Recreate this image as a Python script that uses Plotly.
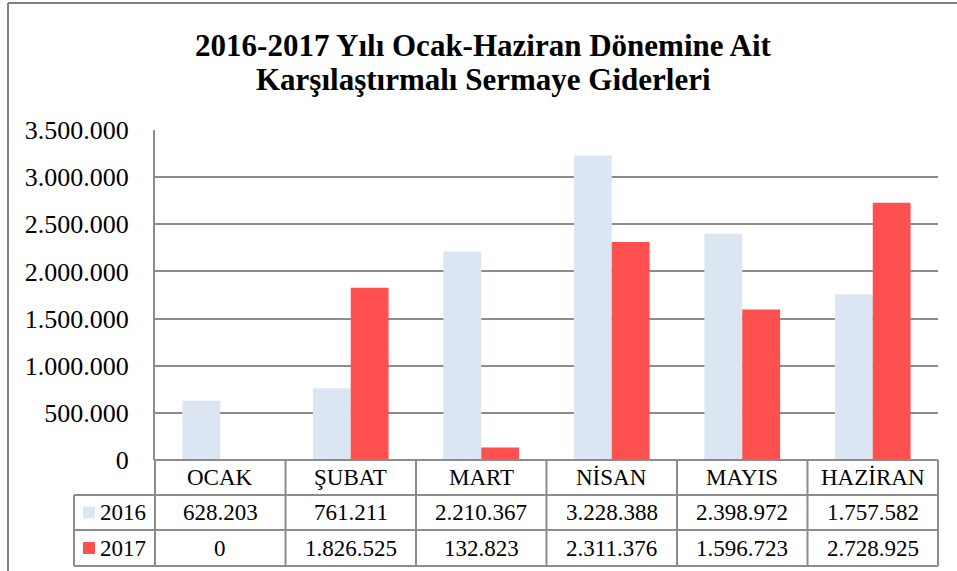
import plotly.graph_objects as go

categories = ["OCAK", "ŞUBAT", "MART", "NİSAN", "MAYIS", "HAZİRAN"]
series_names = ["2016", "2017"]
values_2016 = [628203, 761211, 2210367, 3228388, 2398972, 1757582]
values_2017 = [0, 1826525, 132823, 2311376, 1596723, 2728925]
y_ticks = [0, 500000, 1000000, 1500000, 2000000, 2500000, 3000000, 3500000]
colors = ["#DCE6F2", "#FF5050"]
title_lines = ["2016-2017 Yılı Ocak-Haziran Dönemine Ait",
               "Karşılaştırmalı Sermaye Giderleri"]

FONT = "Liberation Serif"
GRID = "#8c8c8c"

def fmt(v):
    return f"{v:,}".replace(",", ".")

fig = go.Figure()
for name, vals, col in zip(series_names, [values_2016, values_2017], colors):
    fig.add_trace(go.Bar(x=categories, y=vals, name=name, marker_color=col,
                         marker_line_width=0, showlegend=False))

W, H = 957, 571
ml, mr, mt, mb = 155, 19, 130, 111
pw = W - ml - mr
ph = H - mt - mb

def py(px_y):
    return (H - mb - px_y) / ph

def pxd(px_x):
    return (px_x - ml) / pw

n = len(categories)
row_bounds = [py(460), py(495), py(530), py(566)]
left_x = pxd(74)

shapes = []
line = dict(color=GRID, width=2)
shapes.append(dict(type="line", xref="x domain", yref="paper", x0=0, x1=1,
                   y0=row_bounds[0], y1=row_bounds[0], line=line))
for yb in row_bounds[1:]:
    shapes.append(dict(type="line", xref="x domain", yref="paper", x0=left_x, x1=1,
                       y0=yb, y1=yb, line=line))
for i in range(n + 1):
    shapes.append(dict(type="line", xref="x domain", yref="paper", x0=i / n, x1=i / n,
                       y0=row_bounds[0], y1=row_bounds[3], line=line))
shapes.append(dict(type="line", xref="x domain", yref="paper", x0=left_x, x1=left_x,
                   y0=row_bounds[1], y1=row_bounds[3], line=line))
# page frame
shapes.append(dict(type="line", xref="paper", yref="paper", x0=pxd(8), x1=pxd(960),
                   y0=py(3), y1=py(3), line=dict(color="#7f7f7f", width=2)))
shapes.append(dict(type="line", xref="paper", yref="paper", x0=pxd(8), x1=pxd(8),
                   y0=py(3), y1=py(575), line=dict(color="#7f7f7f", width=2)))

annotations = []
row_centers = [(row_bounds[0] + row_bounds[1]) / 2,
               (row_bounds[1] + row_bounds[2]) / 2,
               (row_bounds[2] + row_bounds[3]) / 2]
tfont = dict(family=FONT, size=23, color="black")
for c in categories:
    annotations.append(dict(x=c, xref="x", y=row_centers[0], yref="paper", text=c,
                            xanchor="center", yanchor="middle",
                            showarrow=False, font=tfont))
for r, (name, vals, col) in enumerate(zip(series_names, [values_2016, values_2017], colors)):
    yc = row_centers[r + 1]
    for c, v in zip(categories, vals):
        annotations.append(dict(x=c, xref="x", y=yc, yref="paper", text=fmt(v),
                                xanchor="center", yanchor="middle",
                                showarrow=False, font=tfont))
    sw = 6 / ph
    shapes.append(dict(type="rect", xref="paper", yref="paper",
                       x0=pxd(83), x1=pxd(95), y0=yc - sw, y1=yc + sw,
                       fillcolor=col, line=dict(width=0)))
    annotations.append(dict(x=pxd(98), xref="paper", y=yc, yref="paper", text=name,
                            xanchor="left", yanchor="middle", showarrow=False,
                            font=tfont))

# second title line
annotations.append(dict(x=pxd(483), xref="paper", y=py(80), yref="paper",
                        text="<b>" + title_lines[1] + "</b>", xanchor="center",
                        yanchor="middle", showarrow=False,
                        font=dict(family=FONT, size=31, color="black")))

fig.update_layout(
    width=W, height=H, autosize=False,
    margin=dict(l=ml, r=mr, t=mt, b=mb, pad=0),
    paper_bgcolor="white", plot_bgcolor="white",
    separators=",.",
    barmode="group", bargap=0.42, bargroupgap=0,
    title=dict(text="<b>" + title_lines[0] + "</b>",
               x=(483 / W), xanchor="center", y=1 - 45 / H, yanchor="middle",
               font=dict(family=FONT, size=31, color="black")),
    xaxis=dict(showticklabels=False, showgrid=False, ticks="", range=[-0.5, n - 0.5],
               showline=False, zeroline=False),
    yaxis=dict(range=[0, 3500000], tickvals=y_ticks, tickformat=",d",
               showgrid=True, gridcolor=GRID, gridwidth=2,
               showline=True, linecolor=GRID, linewidth=2, zeroline=False,
               ticks="", ticklabelstandoff=19,
               tickfont=dict(family=FONT, size=26, color="black")),
    shapes=shapes, annotations=annotations,
)

fig.write_html("out.html", config={"displayModeBar": False},
               post_script="document.body.style.margin='0';document.body.style.padding='0';")
